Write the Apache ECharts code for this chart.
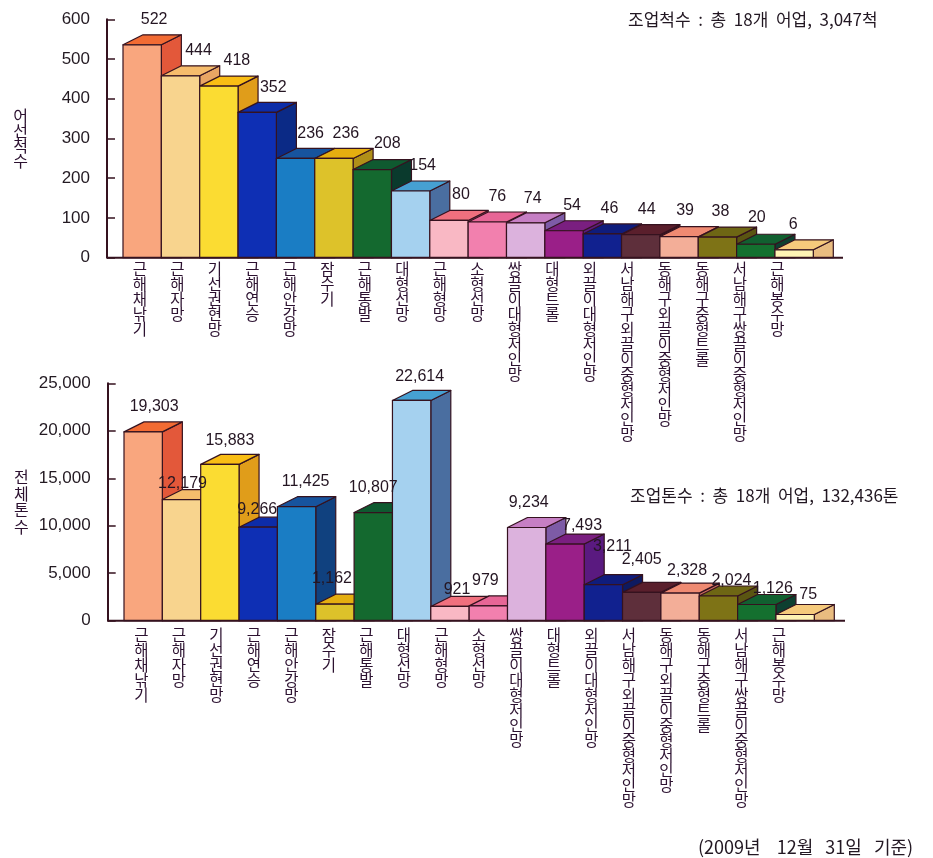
<!DOCTYPE html>
<html><head><meta charset="utf-8">
<style>html,body{margin:0;padding:0;background:#fff}#c{width:933px;height:858px}</style>
<script src="https://cdn.jsdelivr.net/npm/echarts@6/dist/echarts.min.js"></script>
</head><body><div id="c"></div>
<script>
const categories = ['근해채낚기','근해자망','기선권현망','근해연승','근해안강망','잠수기','근해통발','대형선망','근해형망','소형선망','쌍끌이대형저인망','대형트롤','외끌이대형저인망','서남해구외끌이중형저인망','동해구외끌이중형저인망','동해구중형트롤','서남해구쌍끌이중형저인망','근해봉수망'];
const vesselCounts = [522,444,418,352,236,236,208,154,80,76,74,54,46,44,39,38,20,6];
const tonnages = [19303,12179,15883,9266,11425,1162,10807,22614,921,979,9234,7493,3211,2405,2328,2024,1126,75];
const vesselTicks = [0,600,100];
const tonnageTicks = [0,25000,5000];
// label nudges (px) from each bar's rear-top centre
const vesselLabelDx = [12,18,18,16,15,12,15,12,12,10,7,8,7,6,6,3,1,-1];
const vesselLabelDy = [-17,-17,-17,-16,-16,-16,-17,-17,-17,-17,-16,-17,-17,-17,-18,-17,-18,-17];
const tonnageLabelDx = [11,1,10,-1,9,-3,0,8,7,-3,2,17,9,0,7,13,16,13];
const tonnageLabelDy = [-17,-7,-15,-9.5,-17,-17.5,-16.6,-15,-8.5,-17,-16,-10,-30,-24,-14,-7,-7,-11.5];
const frontColors = ['#F9A67E','#F8D48E','#FBDC32','#0E2FB4','#1A7DC4','#DDC22A','#14692F','#A5D1EF','#F9B8C4','#F280AE','#DCB2DD','#9A1F88','#11218F','#5E2F3B','#F3AE98','#7E7316','#14702F','#FFF3B4'];
const topColors = ['#F26B33','#F6BC6C','#F9BD14','#0D2CA8','#17549E','#E5AE10','#0F5A30','#46A0D2','#F0707E','#E76696','#C67FC4','#7A1F80','#0F1C7C','#5A1F2C','#EF8A72','#6E6614','#116030','#F6CA7C'];
const sideColors = ['#E3583A','#E9A664','#E09D1A','#0B2A86','#10417F','#B08F18','#0A3A2D','#4A6EA0','#D8607A','#B8508A','#7D5BA6','#5A1A80','#0E1A60','#3A1520','#C56A5C','#5A5512','#0D3F30','#E9BC80'];

const DEPTH_X = 20, DEPTH_Y = 10, LIFT = 5.5, EDGE = '#35121F';
const FONT_LATIN = '"Liberation Sans", Arial, sans-serif', FONT_KR = '"Noto Sans CJK KR", sans-serif';

function barRender(padLeft, padRight) {
  return function (params, api) {
    const i = api.value(0);
    const top = api.coord([i, api.value(1)]);
    const base = api.coord([i, 0])[1];
    const w = api.size([1, 0])[0];
    const xl = top[0] - w / 2, xr = xl + w, yt = top[1] - LIFT;
    const st = c => ({fill: c, stroke: EDGE, lineWidth: 1.2, lineJoin: 'round'});
    const children = [
      {type: 'polygon', shape: {points: [[xr, yt], [xr + DEPTH_X, yt - DEPTH_Y], [xr + DEPTH_X, base], [xr, base]]}, style: st(sideColors[i])},
      {type: 'polygon', shape: {points: [[xl, yt], [xl + DEPTH_X, yt - DEPTH_Y], [xr + DEPTH_X, yt - DEPTH_Y], [xr, yt]]}, style: st(topColors[i])},
      {type: 'rect', shape: {x: xl, y: yt, width: w, height: base - yt}, style: st(frontColors[i])}
    ];
    if (i === categories.length - 1) {
      const cs = params.coordSys;
      children.push({type: 'line', shape: {x1: cs.x - padLeft, y1: base, x2: cs.x + cs.width + padRight, y2: base}, style: {stroke: EDGE, lineWidth: 2}});
    }
    return {type: 'group', children};
  };
}
function labelRender(values, dx, dy) {
  return function (params, api) {
    const i = api.value(0);
    const p = api.coord([i, api.value(1)]);
    return {type: 'text', style: {
      text: values[i].toLocaleString('en-US'),
      x: p[0] + dx[i], y: p[1] - LIFT - DEPTH_Y + dy[i] + 1.5,
      align: 'center', verticalAlign: 'middle',
      fill: '#241522', font: '16px ' + FONT_LATIN
    }};
  };
}
const vertical = s => s.split('').join('\n');

function panel(g, cfg) {
  const barGrid = {left: cfg.barLeft, top: cfg.top, width: cfg.bandW * 18, height: cfg.height};
  const labelGrid = {left: cfg.labelLeft, top: cfg.top, width: cfg.labelW * 18, height: cfg.height};
  return {
    grid: [barGrid, labelGrid],
    xAxis: [
      {gridIndex: g, type: 'category', data: categories, axisLine: {show: false}, axisTick: {show: false}, axisLabel: {show: false}},
      {gridIndex: g + 1, type: 'category', data: categories, axisLine: {show: false}, axisTick: {show: false},
        axisLabel: {interval: 0, margin: cfg.labelMargin, formatter: vertical, fontFamily: FONT_KR, fontSize: 15.5, lineHeight: cfg.catLine, color: '#2c1130', verticalAlign: 'top'}}
    ],
    yAxis: [
      {gridIndex: g, type: 'value', min: cfg.ticks[0], max: cfg.ticks[1], interval: cfg.ticks[2], offset: cfg.barLeft - cfg.axisX,
        name: vertical(cfg.yName), nameLocation: 'middle', nameRotate: 0, nameGap: cfg.nameGap,
        nameTextStyle: {fontFamily: FONT_KR, fontSize: 16, lineHeight: cfg.nameLine, color: '#2c1130', padding: cfg.namePad},
        axisLine: {show: true, lineStyle: {color: EDGE, width: 2}},
        axisTick: {show: true, inside: true, length: 8, lineStyle: {color: EDGE, width: 1.5}},
        axisLabel: {margin: 17, fontFamily: FONT_LATIN, fontSize: 17, color: '#231a22',
          formatter: v => v.toLocaleString('en-US')},
        splitLine: {show: false}},
      {gridIndex: g + 1, type: 'value', min: cfg.ticks[0], max: cfg.ticks[1], show: false}
    ],
    series: [
      {type: 'custom', xAxisIndex: g, yAxisIndex: g, renderItem: barRender(cfg.barLeft - cfg.axisX, cfg.axisEnd - cfg.barLeft - cfg.bandW * 18), data: cfg.values.map((v, i) => [i, v]), encode: {x: 0, y: 1}, z: 2, clip: false, animation: false, silent: true},
      {type: 'custom', xAxisIndex: g, yAxisIndex: g, renderItem: labelRender(cfg.values, cfg.dx, cfg.dy), data: cfg.values.map((v, i) => [i, v]), encode: {x: 0, y: 1}, z: 3, clip: false, animation: false, silent: true}
    ]
  };
}
const a = panel(0, {values: vesselCounts, ticks: vesselTicks, dx: vesselLabelDx, dy: vesselLabelDy, yName: '어선척수', top: 19.3, height: 238.4, barLeft: 123, bandW: 38.35, labelLeft: 121.2, labelW: 37.5, axisX: 107, axisEnd: 843, labelMargin: 4, catLine: 15, nameLine: 15, nameGap: 79, namePad: [14, 0, 0, 0]});
const b = panel(2, {values: tonnages, ticks: tonnageTicks, dx: tonnageLabelDx, dy: tonnageLabelDy, yName: '전체톤수', top: 383.3, height: 237.4, barLeft: 124, bandW: 38.35, labelLeft: 122.7, labelW: 37.5, axisX: 107.7, axisEnd: 845, labelMargin: 7, catLine: 15, nameLine: 16.5, nameGap: 79, namePad: [0, 0, 0, 0]});

const noteStyle = {fontFamily: FONT_KR, fontSize: 17, fontWeight: 'normal', color: '#221722'};
const option = {
  backgroundColor: '#fff',
  animation: false,
  title: [
    {text: '조업척수  :  총  18개  어업,  3,047척', left: 628, top: 11, padding: 0, textStyle: noteStyle},
    {text: '조업톤수  :  총  18개  어업,  132,436톤', left: 630, top: 487, padding: 0, textStyle: noteStyle},
    {text: '(2009년    12월   31일   기준)', left: 698, top: 838, padding: 0, textStyle: {...noteStyle, fontSize: 18}}
  ],
  grid: [...a.grid, ...b.grid],
  xAxis: [...a.xAxis, ...b.xAxis],
  yAxis: [...a.yAxis, ...b.yAxis],
  series: [...a.series, ...b.series]
};
const chart = echarts.init(document.getElementById('c'), null, {renderer: 'canvas'});
chart.setOption(option);
</script></body></html>
